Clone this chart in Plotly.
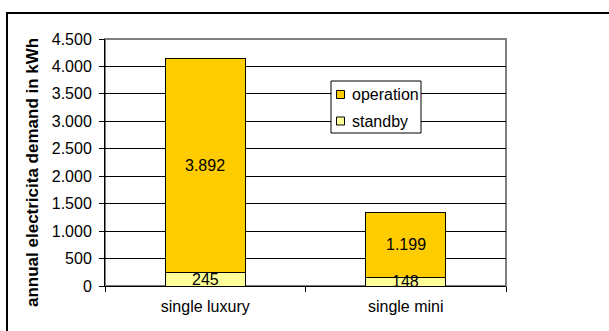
import plotly.graph_objects as go

categories = ["single luxury", "single mini"]
standby = [245, 148]
operation = [3892, 1199]
yticks = [0, 500, 1000, 1500, 2000, 2500, 3000, 3500, 4000, 4500]
series_names = ["operation", "standby"]
series_colors = ["#FFCC00", "#FFFF99"]

W, H = 609, 331
L, R, T, B = 105, 103, 39, 45
pw = W - L - R
ph = H - T - B

def px_x(x):
    return (x - L) / pw

def px_y(y):
    return (H - B - y) / ph

family = "Liberation Sans, Arial, sans-serif"
font = dict(family=family, size=16, color="black")

fig = go.Figure()
fig.add_trace(go.Bar(x=categories, y=standby, name=series_names[1],
                     marker=dict(color=series_colors[1], line=dict(color="black", width=1))))
fig.add_trace(go.Bar(x=categories, y=operation, name=series_names[0],
                     marker=dict(color=series_colors[0], line=dict(color="black", width=1))))

annotations = []
for i, c in enumerate(categories):
    annotations.append(dict(x=c, y=standby[i] / 2, xref="x", yref="y",
                            text=f"{standby[i]:,}".replace(",", "."), showarrow=False, font=font))
    annotations.append(dict(x=c, y=standby[i] + operation[i] / 2, xref="x", yref="y",
                            text=f"{operation[i]:,}".replace(",", "."), showarrow=False, font=font))

annotations.append(dict(x=px_x(32), y=px_y(173), xref="paper", yref="paper",
                        text="<b>annual electricita demand in kWh</b>", textangle=-90,
                        showarrow=False, font=dict(family=family, size=17, color="black"),
                        xanchor="center", yanchor="middle"))

shapes = [
    dict(type="rect", xref="paper", yref="paper", x0=0, x1=1, y0=0, y1=1,
         line=dict(color="#808080", width=2), layer="below"),
    dict(type="rect", xref="paper", yref="paper", x0=px_x(7), x1=px_x(700),
         y0=px_y(13), y1=px_y(400), line=dict(color="black", width=2), layer="below"),
    # legend box
    dict(type="rect", xref="paper", yref="paper", x0=px_x(331), x1=px_x(421),
         y0=px_y(81), y1=px_y(133), line=dict(color="black", width=1), fillcolor="white",
         layer="above"),
]

# manual legend entries
legend_rows = [94.5, 121]
for name, col, yc in zip(series_names, series_colors, legend_rows):
    shapes.append(dict(type="rect", xref="paper", yref="paper",
                       x0=px_x(336.5), x1=px_x(344.5), y0=px_y(yc - 4), y1=px_y(yc + 4),
                       line=dict(color="black", width=1), fillcolor=col, layer="above"))
    annotations.append(dict(x=px_x(350), y=px_y(yc), xref="paper", yref="paper",
                            text=name, showarrow=False, font=font,
                            xanchor="left", yanchor="middle"))

fig.update_layout(
    width=W, height=H,
    margin=dict(l=L, r=R, t=T, b=B),
    paper_bgcolor="white", plot_bgcolor="white",
    barmode="stack", bargap=0.6,
    separators=",.",
    font=font,
    showlegend=False,
    annotations=annotations,
    shapes=shapes,
    xaxis=dict(showline=True, linecolor="black", linewidth=1,
               ticks="outside", ticklen=5, tickcolor="black",
               tickson="boundaries", showgrid=False, tickfont=font,
               ticklabelstandoff=6),
    yaxis=dict(range=[0, 4500], tickvals=yticks, tickformat=",.0f",
               showline=True, linecolor="black", linewidth=1,
               ticks="outside", ticklen=5, tickcolor="black",
               showgrid=True, gridcolor="black", gridwidth=1,
               zeroline=False, tickfont=font, ticklabelstandoff=4),
)

fig.write_html("out.html")
